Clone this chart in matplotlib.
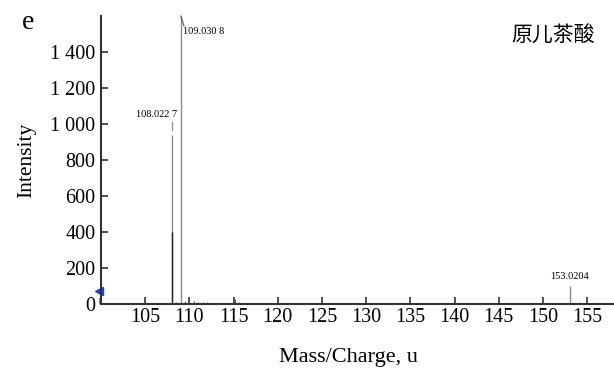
import matplotlib
matplotlib.use('Agg')
import matplotlib.pyplot as plt
from matplotlib.ticker import FuncFormatter

plt.rcParams['font.family'] = ['Liberation Serif', 'DejaVu Serif']

# 质谱数据：主峰
main_mz = [108.0227, 109.0308, 153.0204]
main_int = [940, 1600, 100]
main_labels = ['108.022 7', '109.030 8', '153.0204']

# 小峰
minor_mz = [105.0, 106.6, 107.0, 107.5, 108.5, 109.5, 110.0, 110.5, 111.0, 111.5,
            112.0, 112.5, 113.0, 114.0, 115.0, 115.2, 115.6, 117.0, 120.0, 154.2]
minor_int = [25, 6, 8, 6, 10, 15, 33, 15, 12, 10,
             10, 8, 8, 8, 10, 30, 10, 8, 35, 10]

y_ticks = [0, 200, 400, 600, 800, 1000, 1200, 1400]
x_ticks = [105, 110, 115, 120, 125, 130, 135, 140, 145, 150, 155]
compound = '原儿茶酸'

fig = plt.figure(figsize=(6.14, 3.70), dpi=100)
ax = fig.add_axes([0.1645, 0.178, 0.835, 0.779])

# 小峰
ax.vlines(minor_mz, 0, minor_int, color='#555555', linewidth=0.8)
# 主峰（灰色）
ax.vlines(main_mz, 0, main_int, color='#8a8a8a', linewidth=1.0)
# 108 峰下部为黑色
ax.vlines([main_mz[0]], 0, 400, color='#222222', linewidth=1.0)

# 峰标注
ax.plot([main_mz[0], main_mz[0]], [965, 1010], color='#8a8a8a', linewidth=0.9)
ax.text(main_mz[0] + 0.6, 1050, main_labels[0], ha='right', va='center', fontsize=7.5)
ax.plot([main_mz[1], main_mz[1] + 0.35], [1600, 1545], color='#555555', linewidth=0.8, clip_on=False)
ax.text(main_mz[1] + 0.25, 1515, main_labels[1], ha='left', va='center', fontsize=7.5)
ax.text(main_mz[2], 155, main_labels[2], ha='center', va='center', fontsize=7.5)

# 蓝色标记
ax.plot([99.75], [75], marker='<', color='#1f3fe0', markersize=6, clip_on=False)
ax.plot([99.75, 99.75], [8, 35], color='#888888', linewidth=0.8, clip_on=False)

ax.set_xlim(100, 158)
ax.set_ylim(0, 1600)
ax.set_xticks(x_ticks)
ax.set_yticks(y_ticks)
ax.yaxis.set_major_formatter(FuncFormatter(lambda v, p: f'{int(v):,}'.replace(',', ' ')))
ax.tick_params(direction='in', length=5, width=1.2, labelsize=14.5, color='#333333')
ax.tick_params(axis='y', pad=4)
ax.tick_params(axis='x', pad=3)

for s in ['top', 'right']:
    ax.spines[s].set_visible(False)
for s in ['left', 'bottom']:
    ax.spines[s].set_linewidth(1.5)
    ax.spines[s].set_color('#333333')

ax.set_xlabel('Mass/Charge, u', fontsize=16)
ax.xaxis.set_label_coords(0.482, -0.152)
ax.set_ylabel('Intensity', fontsize=15.5, labelpad=10)

fig.text(0.046, 0.94, 'e', fontsize=20, ha='center', va='center')
fig.text(0.901, 0.903, compound, ha='center', va='center',
         fontsize=15, family=['Noto Sans CJK SC', 'DejaVu Sans'])

plt.savefig('out.png', dpi=100)
plt.close()
